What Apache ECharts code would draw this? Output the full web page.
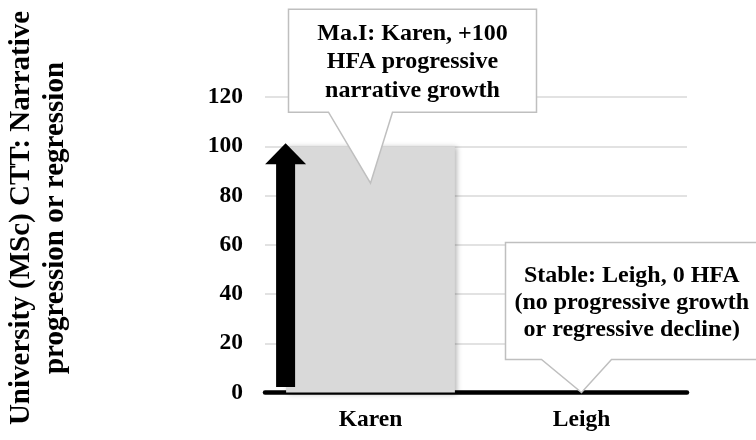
<!DOCTYPE html>
<html>
<head>
<meta charset="utf-8">
<style>
  html, body { margin: 0; padding: 0; background: #fff; }
  #chart { width: 756px; height: 440px; }
</style>
<script src="https://cdn.jsdelivr.net/npm/echarts@6/dist/echarts.min.js"></script>
</head>
<body>
<div id="chart"></div>
<script>
// Narrative change (HFA) per participant
const categories = ['Karen', 'Leigh'];
const hfaValues = [100, 0];
const yAxisMin = 0;
const yAxisMax = 120;
const yAxisStep = 20;
const axisTitle = 'University (MSc) CTT: Narrative\nprogression or regression';
const calloutTexts = [
  'Ma.I: Karen, +100\nHFA progressive\nnarrative growth',
  'Stable: Leigh, 0 HFA\n(no progressive growth\nor regressive decline)'
];
// value on the axis where each callout pointer lands
const calloutAnchors = [85, 0];

const SERIF = '"Liberation Serif", "Times New Roman", Times, serif';

// callout box geometry relative to the pointer tip (pixels)
const calloutBoxes = [
  { left: -82, right: 166, top: -174, bottom: -71, baseL: -42, baseR: 22, lineHeight: 28.5 },
  { left: -76, right: 178, top: -150, bottom: -33, baseL: -40, baseR: 30, lineHeight: 27 }
];

const chart = echarts.init(document.getElementById('chart'), null, { renderer: 'canvas' });

chart.setOption({
  animation: false,
  backgroundColor: '#ffffff',
  grid: { left: 265, right: 69, top: 97, bottom: 47.5, containLabel: false },
  graphic: [{
    type: 'text',
    x: 39,
    y: 218,
    rotation: Math.PI / 2,
    style: {
      text: axisTitle,
      font: 'bold 29px ' + SERIF,
      fill: '#000',
      textAlign: 'center',
      textVerticalAlign: 'middle',
      lineHeight: 34
    }
  }],
  xAxis: {
    type: 'category',
    data: categories,
    axisLine: { show: true, lineStyle: { color: '#000', width: 4.5 } },
    axisTick: { show: false },
    axisLabel: {
      margin: 15,
      color: '#000',
      fontFamily: SERIF,
      fontWeight: 'bold',
      fontSize: 23.5
    },
    splitLine: { show: false }
  },
  yAxis: {
    type: 'value',
    min: yAxisMin,
    max: yAxisMax,
    interval: yAxisStep,
    axisLine: { show: false },
    axisTick: { show: false },
    axisLabel: {
      margin: 22,
      color: '#000',
      fontFamily: SERIF,
      fontWeight: 'bold',
      fontSize: 23.5
    },
    splitLine: { show: true, lineStyle: { color: '#d9d9d9', width: 1.5 } }
  },
  series: [
    {
      name: 'HFA',
      type: 'bar',
      data: hfaValues,
      barWidth: '80%',
      itemStyle: {
        color: '#d9d9d9',
        shadowColor: 'rgba(0,0,0,0.28)',
        shadowBlur: 5,
        shadowOffsetX: 2,
        shadowOffsetY: 1
      },
      z: 2
    },
    {
      // direction arrow along the left edge of each non-zero bar
      name: 'direction',
      type: 'custom',
      coordinateSystem: 'cartesian2d',
      clip: false,
      z: 3,
      data: hfaValues.map((v, i) => [i, v]).filter(d => d[1] !== 0),
      renderItem: function (params, api) {
        const cat = api.value(0);
        const top = api.coord([cat, api.value(1)]);
        const base = api.coord([cat, 0]);
        const band = api.size([1, 0])[0];
        const cx = top[0] - band * 0.4 - 0.5;
        const tipY = top[1] - 3;
        const headY = tipY + 21;
        const bottomY = base[1] - 5.5;
        const shaftHalf = 9.5;
        const headHalf = 20.5;
        return {
          type: 'polygon',
          shape: {
            points: [
              [cx, tipY],
              [cx + headHalf, headY],
              [cx + shaftHalf, headY],
              [cx + shaftHalf, bottomY],
              [cx - shaftHalf, bottomY],
              [cx - shaftHalf, headY],
              [cx - headHalf, headY]
            ]
          },
          style: { fill: '#000' }
        };
      }
    },
    {
      name: 'callouts',
      type: 'custom',
      coordinateSystem: 'cartesian2d',
      clip: false,
      z: 5,
      data: calloutAnchors.map((v, i) => [i, v]),
      renderItem: function (params, api) {
        const idx = params.dataIndex;
        const b = calloutBoxes[idx];
        const tip = api.coord([api.value(0), api.value(1)]);
        const tx = tip[0], ty = tip[1];
        const L = tx + b.left, R = tx + b.right, T = ty + b.top, B = ty + b.bottom;
        return {
          type: 'group',
          children: [
            {
              type: 'polygon',
              shape: {
                points: [
                  [L, T], [R, T], [R, B],
                  [tx + b.baseR, B], [tx, ty], [tx + b.baseL, B],
                  [L, B]
                ]
              },
              style: { fill: '#ffffff', stroke: '#bfbfbf', lineWidth: 1.5 }
            },
            {
              type: 'text',
              style: {
                text: calloutTexts[idx],
                x: (L + Math.min(R, 758)) / 2,
                y: (T + B) / 2 + 1.5,
                textAlign: 'center',
                textVerticalAlign: 'middle',
                font: 'bold 24px ' + SERIF,
                fill: '#000',
                lineHeight: b.lineHeight
              }
            }
          ]
        };
      }
    }
  ]
});
</script>
</body>
</html>
